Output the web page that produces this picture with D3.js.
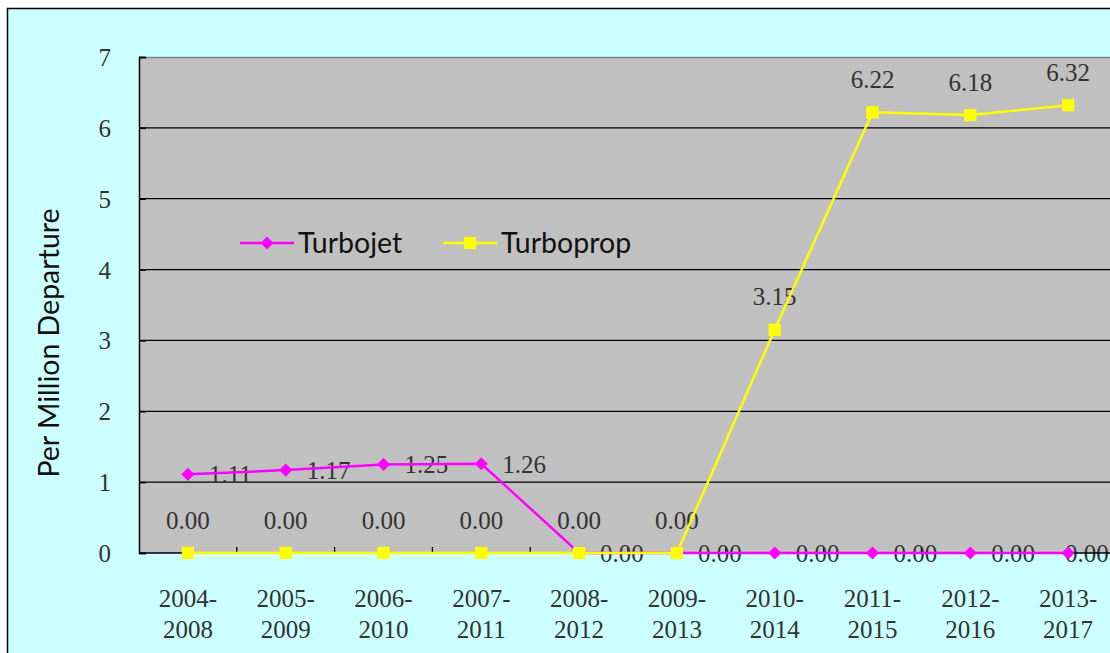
<!DOCTYPE html>
<html>
<head>
<meta charset="utf-8">
<script src="https://cdn.jsdelivr.net/npm/d3@7"></script>
<style>
  body { margin: 0; background: #fff; }
</style>
</head>
<body>
<div id="chart"></div>
<script>
const periods = ["2004-2008", "2005-2009", "2006-2010", "2007-2011", "2008-2012",
  "2009-2013", "2010-2014", "2011-2015", "2012-2016", "2013-2017"]
const turbojet = [1.11, 1.17, 1.25, 1.26, 0, 0, 0, 0, 0, 0]
const turboprop = [0, 0, 0, 0, 0, 0, 3.15, 6.22, 6.18, 6.32]
const yTicks = [0, 1, 2, 3, 4, 5, 6, 7]
const seriesNames = ["Turbojet", "Turboprop"]

const width = 1110
const height = 653
const plotLeft = 139, plotTop = 57, plotBottom = 553
const step = 97.8
const serif = "'Liberation Serif', 'Times New Roman', serif"
const sans = "Lato, 'Noto Sans', sans-serif"
const textColor = "#333"

const svg = d3.select("#chart").append("svg")
  .attr("width", width)
  .attr("height", height)

// outer frame
svg.append("rect")
  .attr("x", 7.5).attr("y", 8.5)
  .attr("width", width + 20).attr("height", height + 20)
  .attr("fill", "#ccffff")
  .attr("stroke", "#000")
  .attr("stroke-width", 1.5)

const x = d3.scaleBand()
  .domain(periods)
  .range([plotLeft, plotLeft + step * periods.length])
const y = d3.scaleLinear().domain([0, 7]).range([plotBottom, plotTop])
const cx = d => x(d) + x.bandwidth() / 2
const plotRight = x.range()[1]

// plot area
svg.append("rect")
  .attr("x", plotLeft).attr("y", plotTop)
  .attr("width", plotRight - plotLeft).attr("height", plotBottom - plotTop)
  .attr("fill", "#c0c0c0")
svg.append("line")
  .attr("x1", plotLeft).attr("x2", plotRight)
  .attr("y1", plotTop + 0.5).attr("y2", plotTop + 0.5)
  .attr("stroke", "#808080").attr("stroke-width", 1.5)

// gridlines
svg.append("g")
  .selectAll("line")
  .data(yTicks.filter(t => t > 0 && t < 7))
  .join("line")
    .attr("x1", plotLeft).attr("x2", plotRight)
    .attr("y1", d => y(d)).attr("y2", d => y(d))
    .attr("stroke", "#000").attr("stroke-width", 1.3)

// y axis
const yAxis = svg.append("g")
  .attr("transform", `translate(${plotLeft},0)`)
  .call(d3.axisLeft(y).tickValues(yTicks).tickSize(-7).tickPadding(28).tickFormat(d3.format("d")))
yAxis.select(".domain").attr("stroke", "#000").attr("stroke-width", 1.5)
yAxis.selectAll(".tick line").attr("stroke", "#000").attr("stroke-width", 1.5)
yAxis.selectAll(".tick text")
  .attr("font-family", serif).attr("font-size", 25).attr("fill", textColor)
  .attr("dy", "0.34em")

// x axis ticks at category boundaries
svg.append("g")
  .selectAll("line")
  .data(periods.slice(1))
  .join("line")
    .attr("x1", d => x(d)).attr("x2", d => x(d))
    .attr("y1", plotBottom).attr("y2", plotBottom - 6)
    .attr("stroke", "#000").attr("stroke-width", 1.3)

// x labels, two lines each
const xl = svg.append("g")
  .selectAll("text")
  .data(periods)
  .join("text")
    .attr("font-family", serif).attr("font-size", 25).attr("fill", textColor)
    .attr("text-anchor", "middle")
xl.append("tspan").attr("x", cx).attr("y", 607).text(d => d.split("-")[0] + "-")
xl.append("tspan").attr("x", cx).attr("y", 638).text(d => d.split("-")[1])

// y title
svg.append("text")
  .attr("transform", "translate(59,343) rotate(-90)")
  .attr("text-anchor", "middle")
  .attr("font-family", sans).attr("font-size", 28.5).attr("fill", "#111")
  .text("Per Million Departure")

const fmt = d3.format(".2f")

// data labels (drawn under the lines)
svg.append("g")
  .selectAll("text")
  .data(turbojet.map((v, i) => ({ v, p: periods[i] })))
  .join("text")
    .attr("x", d => Math.min(cx(d.p) + 21, plotRight - 52))
    .attr("y", d => y(d.v))
    .attr("dy", "0.36em")
    .attr("font-family", serif).attr("font-size", 25).attr("fill", textColor)
    .text(d => fmt(d.v))

svg.append("g")
  .selectAll("text")
  .data(turboprop.map((v, i) => ({ v, p: periods[i] })))
  .join("text")
    .attr("x", d => cx(d.p))
    .attr("y", d => y(d.v) - 33)
    .attr("dy", "0.34em")
    .attr("text-anchor", "middle")
    .attr("font-family", serif).attr("font-size", 25).attr("fill", textColor)
    .text(d => fmt(d.v))

// x axis line
svg.append("line")
  .attr("x1", plotLeft).attr("x2", plotRight)
  .attr("y1", plotBottom).attr("y2", plotBottom)
  .attr("stroke", "#000").attr("stroke-width", 1.5)

const line = d3.line()
  .x((d, i) => cx(periods[i]))
  .y(d => y(d))

const diamond = d3.symbol().type(d3.symbolDiamond2).size(110)
const square = d3.symbol().type(d3.symbolSquare).size(150)

// turbojet
svg.append("path")
  .datum(turbojet)
  .attr("d", line)
  .attr("fill", "none").attr("stroke", "#ff00ff").attr("stroke-width", 2.5)
svg.append("g")
  .selectAll("path")
  .data(turbojet)
  .join("path")
    .attr("transform", (d, i) => `translate(${cx(periods[i])},${y(d)})`)
    .attr("d", diamond)
    .attr("fill", "#ff00ff")

// turboprop
svg.append("path")
  .datum(turboprop)
  .attr("d", line)
  .attr("fill", "none").attr("stroke", "#ffff00").attr("stroke-width", 2.5)
svg.append("g")
  .selectAll("path")
  .data(turboprop)
  .join("path")
    .attr("transform", (d, i) => `translate(${cx(periods[i])},${y(d)})`)
    .attr("d", square)
    .attr("fill", "#ffff00")

// legend
const legend = svg.append("g")
const legendItems = [
  { name: seriesNames[0], color: "#ff00ff", sym: diamond, x0: 240 },
  { name: seriesNames[1], color: "#ffff00", sym: square, x0: 443 }
]
legendItems.forEach(it => {
  legend.append("line")
    .attr("x1", it.x0).attr("x2", it.x0 + 54)
    .attr("y1", 243).attr("y2", 243)
    .attr("stroke", it.color).attr("stroke-width", 2.5)
  legend.append("path")
    .attr("transform", `translate(${it.x0 + 27},243)`)
    .attr("d", it.sym)
    .attr("fill", it.color)
  legend.append("text")
    .attr("x", it.x0 + 58).attr("y", 252.5)
    .attr("font-family", sans).attr("font-size", 28.5).attr("fill", "#111")
    .text(it.name)
})
</script>
</body>
</html>
